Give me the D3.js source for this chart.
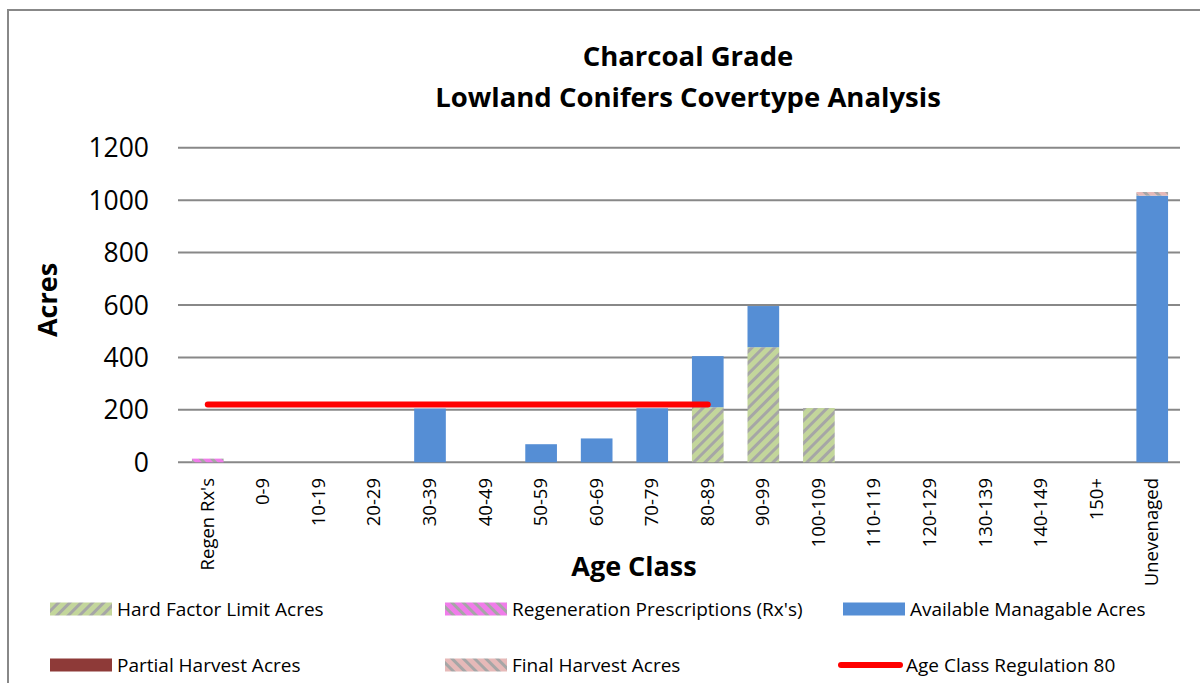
<!DOCTYPE html>
<html>
<head>
<meta charset="utf-8">
<script src="https://cdn.jsdelivr.net/npm/d3@7"></script>
<style>
  body { margin: 0; background: #fff; }
  svg { display: block; font-family: "Open Sans", Lato, sans-serif; }
</style>
</head>
<body>
<svg id="chart" width="1200" height="683"></svg>
<script>
const categories = ["Regen Rx's", "0-9", "10-19", "20-29", "30-39", "40-49", "50-59", "60-69",
  "70-79", "80-89", "90-99", "100-109", "110-119", "120-129", "130-139", "140-149", "150+", "Unevenaged"];
const hardFactor   = [0, 0, 0, 0, 0, 0, 0, 0, 0, 210, 439, 207, 0, 0, 0, 0, 0, 0];
const regenRx      = [14, 0, 0, 0, 0, 0, 0, 0, 0, 0, 0, 0, 0, 0, 0, 0, 0, 0];
const available    = [0, 0, 0, 0, 205, 0, 69, 91, 206, 195, 157, 0, 0, 0, 0, 0, 0, 1017];
const partial      = [0, 0, 0, 0, 0, 0, 0, 0, 0, 0, 0, 0, 0, 0, 0, 0, 0, 0];
const finalHarvest = [0, 0, 0, 0, 0, 0, 0, 0, 0, 0, 0, 0, 0, 0, 0, 0, 0, 14];
const regulation   = [220, 220, 220, 220, 220, 220, 220, 220, 220, 220];
const yTicks = [0, 200, 400, 600, 800, 1000, 1200];

const svg = d3.select("#chart");

// chart frame (only top and left edges show in the picture)
svg.append("rect")
  .attr("x", 8).attr("y", 10)
  .attr("width", 1210).attr("height", 700)
  .attr("fill", "none").attr("stroke", "#888").attr("stroke-width", 2);

// hatch patterns
const defs = svg.append("defs");
function hatch(id, bg, angle) {
  const p = defs.append("pattern")
    .attr("id", id)
    .attr("patternUnits", "userSpaceOnUse")
    .attr("width", 8).attr("height", 8)
    .attr("patternTransform", `rotate(${angle})`);
  p.append("rect").attr("width", 8).attr("height", 8).attr("fill", bg);
  p.append("rect").attr("width", 3).attr("height", 8).attr("fill", "#a6a6a6");
}
hatch("hatchHard", "#c3d69b", 45);
hatch("hatchRegen", "#f07cea", -45);
hatch("hatchFinal", "#e6b9b8", -45);

const series = [
  { key: "hard", name: "Hard Factor Limit Acres", values: hardFactor, fill: "url(#hatchHard)" },
  { key: "regen", name: "Regeneration Prescriptions (Rx's)", values: regenRx, fill: "url(#hatchRegen)" },
  { key: "avail", name: "Available Managable Acres", values: available, fill: "#558ed5" },
  { key: "partial", name: "Partial Harvest Acres", values: partial, fill: "#8e3a38" },
  { key: "final", name: "Final Harvest Acres", values: finalHarvest, fill: "url(#hatchFinal)" },
];

const table = categories.map((c, i) => {
  const row = { cat: c };
  series.forEach(s => { row[s.key] = s.values[i]; });
  return row;
});

const x = d3.scaleBand()
  .domain(categories)
  .range([180, 1180])
  .paddingInner(0.43)
  .paddingOuter(0.215);

const y = d3.scaleLinear().domain([0, 1200]).range([462.3, 147.7]);

// gridlines
svg.append("g")
  .selectAll("line")
  .data(yTicks)
  .join("line")
  .attr("x1", 178).attr("x2", 1180)
  .attr("y1", d => y(d)).attr("y2", d => y(d))
  .attr("stroke", "#888").attr("stroke-width", 2);

// y tick labels
svg.append("g")
  .selectAll("text")
  .data(yTicks)
  .join("text")
  .attr("x", 149)
  .attr("y", d => y(d))
  .attr("dy", "0.36em")
  .attr("text-anchor", "end")
  .attr("font-size", 26.5)
  .text(d => d);

// stacked bars
const stack = d3.stack().keys(series.map(s => s.key));
const layers = stack(table);

svg.append("g")
  .selectAll("g")
  .data(layers)
  .join("g")
  .attr("fill", (d, i) => series[i].fill)
  .selectAll("rect")
  .data(d => d.filter(v => v[1] - v[0] > 0))
  .join("rect")
  .attr("x", d => x(d.data.cat))
  .attr("width", x.bandwidth())
  .attr("y", d => y(d[1]))
  .attr("height", d => y(d[0]) - y(d[1]));

// age class regulation line
const line = d3.line()
  .x((d, i) => x(categories[i]) + x.bandwidth() / 2)
  .y(d => y(d));

svg.append("path")
  .datum(regulation)
  .attr("d", line)
  .attr("fill", "none")
  .attr("stroke", "#ff0000")
  .attr("stroke-width", 6)
  .attr("stroke-linecap", "round");

// x tick labels
svg.append("g")
  .selectAll("text")
  .data(categories)
  .join("text")
  .attr("transform", d => `translate(${x(d) + x.bandwidth() / 2 + 6},478) rotate(-90)`)
  .attr("text-anchor", "end")
  .attr("font-size", 18.5)
  .text(d => d);

// titles
svg.append("text")
  .attr("x", 688).attr("y", 66)
  .attr("text-anchor", "middle")
  .attr("font-size", 27.5).attr("font-weight", "bold")
  .text("Charcoal Grade");
svg.append("text")
  .attr("x", 688).attr("y", 107)
  .attr("text-anchor", "middle")
  .attr("font-size", 27.5).attr("font-weight", "bold")
  .text("Lowland Conifers Covertype Analysis");

svg.append("text")
  .attr("x", 634).attr("y", 576)
  .attr("text-anchor", "middle")
  .attr("font-size", 27).attr("font-weight", "bold")
  .text("Age Class");

svg.append("text")
  .attr("transform", "translate(57,300) rotate(-90)")
  .attr("text-anchor", "middle")
  .attr("font-size", 27).attr("font-weight", "bold")
  .text("Acres");

// legend
const legendItems = [
  { name: series[0].name, fill: series[0].fill, x: 50, y: 609 },
  { name: series[1].name, fill: series[1].fill, x: 445, y: 609 },
  { name: series[2].name, fill: series[2].fill, x: 843, y: 609 },
  { name: series[3].name, fill: series[3].fill, x: 50, y: 665 },
  { name: series[4].name, fill: series[4].fill, x: 445, y: 665 },
  { name: "Age Class Regulation 80", line: true, x: 843, y: 665 },
];

const leg = svg.append("g")
  .selectAll("g")
  .data(legendItems)
  .join("g")
  .attr("transform", d => `translate(${d.x},${d.y})`);

leg.filter(d => !d.line)
  .append("rect")
  .attr("x", 0).attr("y", -6.5)
  .attr("width", 62).attr("height", 13)
  .attr("fill", d => d.fill);

leg.filter(d => d.line)
  .append("line")
  .attr("x1", -2).attr("x2", 57)
  .attr("stroke", "#ff0000").attr("stroke-width", 6)
  .attr("stroke-linecap", "round");

leg.append("text")
  .attr("x", d => d.line ? 63 : 67)
  .attr("dy", "0.36em")
  .attr("font-size", 19)
  .text(d => d.name);
</script>
</body>
</html>
